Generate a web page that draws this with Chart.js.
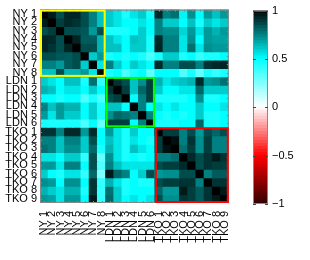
<!DOCTYPE html>
<html>
<head>
<meta charset="utf-8">
<script src="https://cdn.jsdelivr.net/npm/chart.js@4"></script>
<style>
    html, body { margin: 0; padding: 0; background: #fff; }
    #wrap { position: relative; width: 310px; height: 260px; }
    #heat { position: absolute; left: 0; top: 0; width: 246px; height: 260px; }
    #cbar { position: absolute; left: 246px; top: 0; width: 64px; height: 260px; }
</style>
</head>
<body>
<div id="wrap">
    <div id="heat"><canvas id="heatChart"></canvas></div>
    <div id="cbar"><canvas id="cbarChart"></canvas></div>
</div>
<script>
// ======================================================
// DATA
// ======================================================
const nyLabels  = ["NY 1", "NY 2", "NY 3", "NY 4", "NY 5", "NY 6", "NY 7", "NY 8"];
const ldnLabels = ["LDN 1", "LDN 2", "LDN 3", "LDN 4", "LDN 5", "LDN 6"];
const tkoLabels = ["TKO 1", "TKO 2", "TKO 3", "TKO 4", "TKO 5", "TKO 6", "TKO 7", "TKO 8", "TKO 9"];

// each row: NY 1..8 | LDN 1..6 | TKO 1..9
const nyRows = [
    [1, .95, .85, .93, .93, .85, .75, .62,   .6, .55, .45, .55, .6, .45,   .92, .75, .78, .52, .72, .5, .7, .62, .7],
    [.95, 1, .88, .92, .9, .85, .75, .62,    .6, .55, .5, .5, .55, .5,     .75, .6, .6, .5, .62, .45, .6, .55, .6],
    [.85, .88, 1, .85, .85, .83, .7, .85,    .45, .45, .45, .5, .6, .5,    .75, .72, .72, .58, .7, .55, .7, .65, .7],
    [.93, .92, .85, 1, .93, .82, .82, .65,   .62, .55, .5, .62, .6, .45,   .92, .75, .75, .55, .72, .5, .7, .68, .68],
    [.93, .9, .85, .93, 1, .85, .85, .65,    .62, .62, .5, .6, .6, .45,    .93, .75, .75, .55, .78, .55, .72, .7, .7],
    [.85, .85, .83, .82, .85, 1, .6, .7,     .45, .5, .45, .5, .45, .35,   .45, .6, .6, .45, .5, .4, .45, .45, .5],
    [.75, .75, .7, .82, .85, .6, 1, .55,     .75, .6, .5, .6, .55, .5,     .92, .75, .75, .85, .85, .75, .9, .92, .93],
    [.62, .62, .85, .65, .65, .7, .55, 1,    .45, .5, .35, .45, .5, .3,    .5, .5, .5, .35, .45, .3, .45, .4, .45]
];
const ldnRows = [
    [.6, .55, .5, .62, .62, .45, .78, .4,    1, .9, .85, .62, .72, .88,    .65, .55, .6, .62, .65, .92, .7, .72, .78],
    [.65, .62, .5, .55, .55, .5, .6, .5,     .9, 1, .88, .62, .8, .88,     .6, .5, .5, .55, .55, .8, .6, .6, .6],
    [.5, .5, .45, .5, .5, .35, .45, .35,     .85, .88, 1, .5, .75, .88,    .45, .45, .45, .45, .5, .72, .45, .45, .5],
    [.75, .62, .7, .65, .65, .5, .6, .45,    .62, .62, .5, 1, .75, .5,     .55, .5, .55, .5, .5, .6, .5, .5, .55],
    [.7, .55, .7, .6, .6, .5, .6, .45,       .72, .8, .78, .75, 1, .75,    .5, .45, .5, .45, .5, .6, .45, .45, .5],
    [.45, .45, .45, .45, .45, .35, .5, .3,   .88, .88, .88, .5, .75, 1,    .45, .45, .45, .5, .5, .8, .45, .45, .5]
];
const tkoRows = [
    [.9, .9, .75, .92, .92, .7, .92, .5,     .7, .55, .45, .6, .5, .5,     1, .88, .88, .75, .85, .7, .85, .8, .85],
    [.75, .75, .62, .75, .75, .6, .85, .5,   .62, .55, .45, .55, .5, .45,  .88, 1, .97, .75, .9, .72, .88, .75, .75],
    [.78, .75, .62, .72, .72, .6, .8, .45,   .65, .55, .45, .62, .55, .5,  .88, .97, 1, .78, .88, .72, .88, .75, .75],
    [.55, .55, .5, .6, .6, .4, .85, .3,      .72, .55, .45, .5, .45, .5,   .75, .75, .78, 1, .92, .85, .9, .95, .9],
    [.7, .7, .55, .75, .75, .5, .85, .35,    .75, .62, .55, .55, .55, .55, .85, .88, .88, .92, 1, .85, .9, .88, .88],
    [.6, .5, .45, .55, .55, .4, .8, .25,     .95, .8, .75, .5, .6, .85,    .7, .72, .72, .85, .85, 1, .75, .82, .82],
    [.72, .7, .5, .72, .72, .5, .9, .4,      .65, .55, .45, .5, .45, .45,  .85, .88, .88, .9, .9, .75, 1, .9, .9],
    [.65, .6, .55, .65, .65, .45, .9, .4,    .78, .6, .45, .5, .5, .5,     .8, .7, .7, .95, .88, .82, .9, 1, .95],
    [.7, .68, .55, .7, .7, .5, .95, .4,      .8, .6, .5, .55, .5, .55,     .85, .72, .72, .9, .88, .82, .9, .95, 1]
];

const groupColors  = ["#ffff00", "#00ff00", "#ff0000"];
const colorbarTicks = [-1, -0.5, 0, 0.5, 1];
const colorbarSteps = 64;

const labels = [...nyLabels, ...ldnLabels, ...tkoLabels];
const rows   = [...nyRows, ...ldnRows, ...tkoRows];
const groupSizes = [nyLabels.length, ldnLabels.length, tkoLabels.length];

// ── Shared defaults ───────────────────────────────────
Chart.defaults.font.family = "'Liberation Sans', Arial, sans-serif";
Chart.defaults.font.size   = 11;
Chart.defaults.color       = "#000";

// -1 dark red → -0.5 red → 0 white → 0.5 cyan → 1 black
function cmap(v) {
    let r, g, b;
    if (v >= 0.5)       { const t = (v - 0.5) / 0.5; r = 0; g = b = 255 * (1 - t); }
    else if (v >= 0)    { const t = v / 0.5; r = 255 * (1 - t); g = b = 255; }
    else if (v >= -0.5) { const t = -v / 0.5; r = 255; g = b = 255 * (1 - t); }
    else                { const t = (-v - 0.5) / 0.5; r = 255 - 205 * t; g = b = 0; }
    return `rgb(${Math.round(r)},${Math.round(g)},${Math.round(b)})`;
}

// ======================================================
// HEATMAP
// ======================================================
const boxPlugin = {
    id: "boxes",
    afterDatasetsDraw(chart) {
        const { ctx, chartArea: a, scales: { x, y } } = chart;
        const cw = x.width / labels.length;
        ctx.save();
        // axes box + small inner ticks
        ctx.strokeStyle = "#888";
        ctx.lineWidth = 1;
        ctx.strokeRect(a.left + 0.5, a.top + 0.5, a.width - 1, a.height - 1);
        ctx.beginPath();
        labels.forEach((_, i) => {
            const px = Math.round(x.getPixelForValue(i)) + 0.5;
            ctx.moveTo(px, a.top); ctx.lineTo(px, a.top + 2);
            ctx.moveTo(px, a.bottom); ctx.lineTo(px, a.bottom - 2);
            const py = Math.round(y.getPixelForValue(i + 0.5)) + 0.5;
            ctx.moveTo(a.left, py); ctx.lineTo(a.left + 2, py);
            ctx.moveTo(a.right, py); ctx.lineTo(a.right - 2, py);
        });
        ctx.stroke();
        // group boxes
        ctx.lineWidth = 2;
        let start = 0;
        groupSizes.forEach((n, g) => {
            const x0 = x.getPixelForValue(start) - cw / 2;
            const x1 = x.getPixelForValue(start + n - 1) + cw / 2;
            const y0 = y.getPixelForValue(start);
            const y1 = y.getPixelForValue(start + n);
            ctx.strokeStyle = groupColors[g];
            ctx.strokeRect(x0 + 1, y0 + 1, x1 - x0 - 2, y1 - y0 - 2);
            start += n;
        });
        ctx.restore();
    }
};

new Chart(document.getElementById("heatChart"), {
    type: "bar",
    data: {
        labels: labels,
        datasets: rows.map((row, i) => ({
            label: labels[i],
            data: row.map(() => [i, i + 1]),
            backgroundColor: row.map(cmap),
            borderWidth: 0,
            inflateAmount: 0.5,
            grouped: false,
            barPercentage: 1,
            categoryPercentage: 1
        }))
    },
    options: {
        responsive: true,
        maintainAspectRatio: false,
        animation: false,
        layout: { padding: { top: 4, right: 5, left: 0, bottom: 0 } },
        plugins: { legend: { display: false }, tooltip: { enabled: false } },
        scales: {
            x: {
                grid: { display: false, drawTicks: false },
                border: { display: false },
                ticks: { autoSkip: false, maxRotation: 90, minRotation: 90, padding: 8 },
                afterFit: s => { s.height = 57; }
            },
            y: {
                min: 0,
                max: labels.length,
                reverse: true,
                grid: { display: false, drawTicks: false },
                border: { display: false },
                afterBuildTicks: axis => { axis.ticks = labels.map((_, i) => ({ value: i + 0.5 })); },
                ticks: { autoSkip: false, padding: 3, callback: (v, i) => labels[i] },
                afterFit: s => { s.width = 40; }
            }
        }
    },
    plugins: [boxPlugin]
});

// ======================================================
// COLORBAR
// ======================================================
const cbarPlugin = {
    id: "cbarBox",
    afterDatasetsDraw(chart) {
        const { ctx, chartArea: a, scales: { y } } = chart;
        ctx.save();
        ctx.strokeStyle = "#888";
        ctx.lineWidth = 1;
        ctx.strokeRect(a.left + 0.5, a.top + 0.5, a.width - 1, a.height - 1);
        ctx.strokeStyle = "#444";
        ctx.beginPath();
        colorbarTicks.forEach(t => {
            const py = Math.round(y.getPixelForValue(t)) + 0.5;
            ctx.moveTo(a.left, py); ctx.lineTo(a.left + 3, py);
            ctx.moveTo(a.right, py); ctx.lineTo(a.right - 3, py);
        });
        ctx.stroke();
        ctx.restore();
    }
};

const step = 2 / colorbarSteps;
const cbarDatasets = [];
for (let k = 0; k < colorbarSteps; k++) {
    const lo = -1 + k * step;
    cbarDatasets.push({
        data: [[lo, lo + step]],
        backgroundColor: cmap(lo + step / 2),
        borderWidth: 0,
        inflateAmount: 0.5,
        grouped: false,
        barPercentage: 1,
        categoryPercentage: 1
    });
}

new Chart(document.getElementById("cbarChart"), {
    type: "bar",
    data: { labels: [""], datasets: cbarDatasets },
    options: {
        responsive: true,
        maintainAspectRatio: false,
        animation: false,
        layout: { padding: { top: 5, left: 7, right: 0, bottom: 56 } },
        plugins: { legend: { display: false }, tooltip: { enabled: false } },
        scales: {
            x: { display: false },
            y: {
                position: "right",
                min: -1,
                max: 1,
                grid: { display: false, drawTicks: false },
                border: { display: false },
                afterBuildTicks: axis => { axis.ticks = colorbarTicks.map(v => ({ value: v })); },
                ticks: {
                    padding: 4,
                    callback: v => v < 0 ? "\u2212" + Math.abs(v) : String(v)
                },
                afterFit: s => { s.width = 42; }
            }
        }
    },
    plugins: [cbarPlugin]
});
</script>
</body>
</html>
